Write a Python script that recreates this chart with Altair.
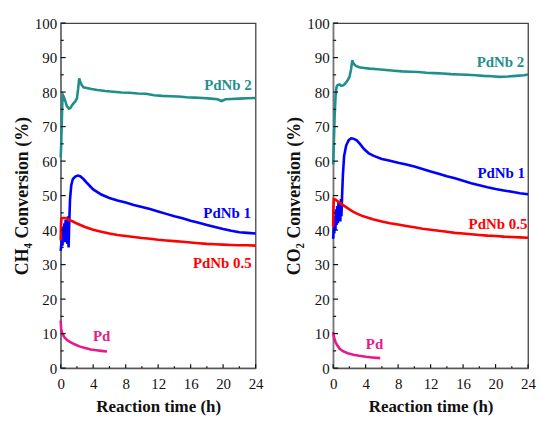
import altair as alt
import pandas as pd

series_names = ["PdNb 2", "PdNb 1", "PdNb 0.5", "Pd"]
series_colors = ["#1f8f8d", "#0000ff", "#ff0000", "#e8198b"]

# ---- CH4 panel ----
ch4_pdnb2_t = [0, 0.05, 0.12, 0.2, 0.3, 0.4, 0.55, 0.75, 1.0, 1.2, 1.4, 1.6, 1.8, 2.0, 2.15, 2.28, 2.4, 2.6, 2.8, 3.2, 3.8, 4.5, 5.5, 6.5, 7.5, 8.5, 9.5, 10.5, 11.5, 12.5, 13.5, 14.5, 15.5, 16.5, 17.5, 18.5, 19.3, 19.8, 20.3, 21, 22, 23, 24]
ch4_pdnb2_v = [61, 64, 70, 77, 79, 78.5, 77.5, 76, 75.2, 75.4, 76.2, 76.8, 77.3, 78.2, 81, 84, 83, 82, 81.4, 81.2, 80.9, 80.6, 80.3, 80.1, 79.9, 79.8, 79.6, 79.5, 79.1, 78.9, 78.8, 78.7, 78.5, 78.4, 78.3, 78.1, 77.9, 77.4, 77.9, 78, 78.1, 78.2, 78.3]

ch4_pdnb1_t = [0, 0.08, 0.15, 0.22, 0.3, 0.38, 0.45, 0.52, 0.6, 0.68, 0.75, 0.82, 0.9, 0.97, 1.05, 1.15, 1.3, 1.5, 1.8, 2.1, 2.4, 2.8, 3.3, 4, 5, 6, 7, 8, 9, 10, 11, 12, 13, 14, 15, 16, 17, 18, 19, 20, 21, 22, 23, 24]
ch4_pdnb1_v = [34, 36, 39, 35.5, 41, 37, 42, 36.5, 43, 38, 41.5, 36, 44, 35, 42, 49, 53, 54.8, 55.5, 55.8, 55.6, 54.8, 53.5, 51.8, 50.3, 49.3, 48.6, 48, 47.3, 46.7, 46.1, 45.4, 44.7, 44, 43.4, 42.7, 42.1, 41.5, 40.9, 40.3, 39.8, 39.4, 39.2, 39]

ch4_pdnb05_t = [0, 0.03, 0.08, 0.2, 0.5, 0.8, 1.0, 1.5, 2, 3, 4, 5, 6, 7, 8, 9, 10, 11, 12, 13, 14, 15, 16, 17, 18, 19, 20, 21, 22, 23, 24]
ch4_pdnb05_v = [37, 41, 43.3, 43.5, 43.5, 43.3, 43, 42.5, 41.9, 40.9, 40.1, 39.5, 39, 38.6, 38.3, 38, 37.7, 37.5, 37.2, 37, 36.8, 36.6, 36.4, 36.2, 36, 35.9, 35.8, 35.7, 35.6, 35.6, 35.5]

ch4_pd_t = [0, 0.05, 0.15, 0.3, 0.5, 0.8, 1.2, 1.7, 2.3, 3, 3.7, 4.4, 5, 5.7]
ch4_pd_v = [13.8, 11.5, 10.3, 9.5, 8.8, 8.1, 7.5, 6.9, 6.3, 5.8, 5.4, 5.2, 5.0, 4.8]

ch4_label_t = [20.6, 20.5, 19.9, 5.05]
ch4_label_v = [82, 45, 30.5, 9.2]

# ---- CO2 panel ----
co2_pdnb2_t = [0, 0.08, 0.18, 0.3, 0.42, 0.55, 0.8, 1.0, 1.3, 1.6, 1.8, 2.0, 2.2, 2.35, 2.5, 2.8, 3.2, 3.8, 4.5, 5.5, 6.5, 7.5, 8.5, 9.5, 10.5, 11.5, 12.5, 13.5, 14.5, 15.5, 16.5, 17.5, 18.5, 19.5, 20.5, 21.5, 22.5, 23.5, 24]
co2_pdnb2_v = [59, 65, 73, 79, 81.5, 82, 82.2, 81.8, 82, 82.8, 83.5, 84.3, 86.5, 89.2, 88.3, 87.6, 87.2, 87, 86.8, 86.6, 86.4, 86.2, 86, 85.9, 85.8, 85.6, 85.5, 85.4, 85.2, 85.1, 85, 84.9, 84.7, 84.6, 84.4, 84.5, 84.7, 84.9, 85.1]

co2_pdnb1_t = [0, 0.07, 0.14, 0.2, 0.28, 0.35, 0.42, 0.5, 0.58, 0.65, 0.72, 0.8, 0.88, 0.95, 1.02, 1.1, 1.2, 1.35, 1.6, 1.9, 2.2, 2.5, 2.9, 3.3, 3.8, 4.4, 5, 6, 7, 8, 9, 10, 11, 12, 13, 14, 15, 16, 17, 18, 19, 20, 21, 22, 23, 24]
co2_pdnb1_v = [37.5, 41, 39, 44, 40, 46, 41.5, 47, 42, 48, 43, 46, 42.5, 49, 44, 50, 56, 61.5, 64.5, 66, 66.6, 66.5, 66, 65, 63.5, 62.2, 61.5, 60.6, 60.1, 59.5, 59, 58.4, 57.7, 57, 56.3, 55.6, 55, 54.3, 53.6, 53, 52.4, 51.9, 51.5, 51.1, 50.7, 50.4]

co2_pdnb05_t = [0, 0.03, 0.08, 0.3, 0.6, 1.0, 1.5, 2, 2.5, 3, 3.5, 4, 5, 6, 7, 8, 9, 10, 11, 12, 13, 14, 15, 16, 17, 18, 19, 20, 21, 22, 23, 24]
co2_pdnb05_v = [41, 46, 49, 48.8, 48.3, 47.6, 46.8, 46, 45.3, 44.7, 44.2, 43.8, 43.1, 42.5, 42, 41.6, 41.2, 40.8, 40.4, 40.1, 39.8, 39.5, 39.2, 39, 38.8, 38.6, 38.4, 38.3, 38.1, 38, 37.9, 37.8]

co2_pd_t = [0, 0.05, 0.15, 0.3, 0.5, 0.8, 1.2, 1.8, 2.5, 3.2, 4, 4.8, 5.8]
co2_pd_v = [10.5, 9.5, 8.5, 7.5, 6.6, 5.6, 4.9, 4.3, 3.9, 3.6, 3.3, 3.1, 2.9]

co2_label_t = [20.6, 20.7, 20.3, 5.1]
co2_label_v = [88.8, 56.5, 41.9, 6.9]

x_tick_labels = [0, 4, 8, 12, 16, 20, 24]
x_major_ticks = [0, 4, 8, 12, 16, 20, 24]
x_minor_ticks = [2, 6, 10, 14, 18, 22]
y_tick_labels = [0, 10, 20, 30, 40, 50, 60, 70, 80, 90, 100]
y_minor_ticks = [5, 15, 25, 35, 45, 55, 65, 75, 85, 95]

W, H = 196, 347
SERIF = "Liberation Serif"


def build_df(pairs):
    rows = []
    for name, ts, vs in pairs:
        for t, v in zip(ts, vs):
            rows.append({"t": t, "v": v, "s": name})
    return pd.DataFrame(rows)


def panel(pairs, lab_t, lab_v, ytitle):
    df = build_df(pairs)
    xs = alt.Scale(domain=[0, 24], nice=False, zero=False)
    ys = alt.Scale(domain=[0, 100], nice=False)
    cs = alt.Scale(domain=series_names, range=series_colors)

    xaxis = alt.Axis(values=x_tick_labels, title="Reaction time (h)", ticks=False,
                     grid=False, labelFont=SERIF, labelFontSize=15, labelColor="#111",
                     labelPadding=8, titleFont=SERIF, titleFontSize=17,
                     titleFontWeight="bold", titleColor="#111", titlePadding=8,
                     domainColor="#555", domainWidth=1.5, labelFlush=False)
    yaxis = alt.Axis(values=y_tick_labels, title=ytitle, ticks=False, grid=False,
                     labelFont=SERIF, labelFontSize=15, labelColor="#111",
                     labelPadding=4, titleFont=SERIF, titleFontSize=18,
                     titleFontWeight="bold", titleColor="#111", titlePadding=3,
                     domainColor="#777", domainWidth=1.5)

    lines = alt.Chart(df).mark_line(strokeWidth=2.6).encode(
        x=alt.X("t:Q", scale=xs, axis=xaxis),
        y=alt.Y("v:Q", scale=ys, axis=yaxis),
        color=alt.Color("s:N", scale=cs, legend=None),
        detail="s:N",
    )

    ldf = pd.DataFrame({"t": lab_t, "v": lab_v, "s": series_names})
    labels = alt.Chart(ldf).mark_text(font=SERIF, fontSize=15, fontWeight="bold",
                                      align="center", baseline="middle").encode(
        x=alt.X("t:Q", scale=xs, axis=xaxis),
        y=alt.Y("v:Q", scale=ys, axis=yaxis),
        text="s:N",
        color=alt.Color("s:N", scale=cs, legend=None),
    )

    ymaj = alt.Chart(pd.DataFrame({"v": y_tick_labels})).mark_rule(color="#111", strokeWidth=1.2).encode(
        y=alt.Y("v:Q", scale=ys, axis=yaxis), x=alt.value(0), x2=alt.value(5))
    ymin = alt.Chart(pd.DataFrame({"v": y_minor_ticks})).mark_rule(color="#111", strokeWidth=1.2).encode(
        y=alt.Y("v:Q", scale=ys, axis=yaxis), x=alt.value(0), x2=alt.value(3))
    xmaj = alt.Chart(pd.DataFrame({"t": x_major_ticks})).mark_rule(color="#111", strokeWidth=1.2).encode(
        x=alt.X("t:Q", scale=xs, axis=xaxis), y=alt.value(H), y2=alt.value(H - 4))
    xmin = alt.Chart(pd.DataFrame({"t": x_minor_ticks})).mark_rule(color="#111", strokeWidth=1.2).encode(
        x=alt.X("t:Q", scale=xs, axis=xaxis), y=alt.value(H), y2=alt.value(H - 2))

    return alt.layer(lines, ymaj, ymin, xmaj, xmin, labels).properties(width=W, height=H)


left = panel([
    ("PdNb 2", ch4_pdnb2_t, ch4_pdnb2_v),
    ("PdNb 1", ch4_pdnb1_t, ch4_pdnb1_v),
    ("PdNb 0.5", ch4_pdnb05_t, ch4_pdnb05_v),
    ("Pd", ch4_pd_t, ch4_pd_v),
], ch4_label_t, ch4_label_v, "CH\u2084 Conversion (%)")

right = panel([
    ("PdNb 2", co2_pdnb2_t, co2_pdnb2_v),
    ("PdNb 1", co2_pdnb1_t, co2_pdnb1_v),
    ("PdNb 0.5", co2_pdnb05_t, co2_pdnb05_v),
    ("Pd", co2_pd_t, co2_pd_v),
], co2_label_t, co2_label_v, "CO\u2082 Conversion (%)")

chart = alt.hconcat(left, right, spacing=20).resolve_scale(color="shared").properties(
    padding={"left": 4, "top": 6, "right": 0, "bottom": 0},
    background="white",
).configure_view(stroke="#444", strokeWidth=1.3)

chart.save("out.html", embed_options={"renderer": "svg", "actions": False})
